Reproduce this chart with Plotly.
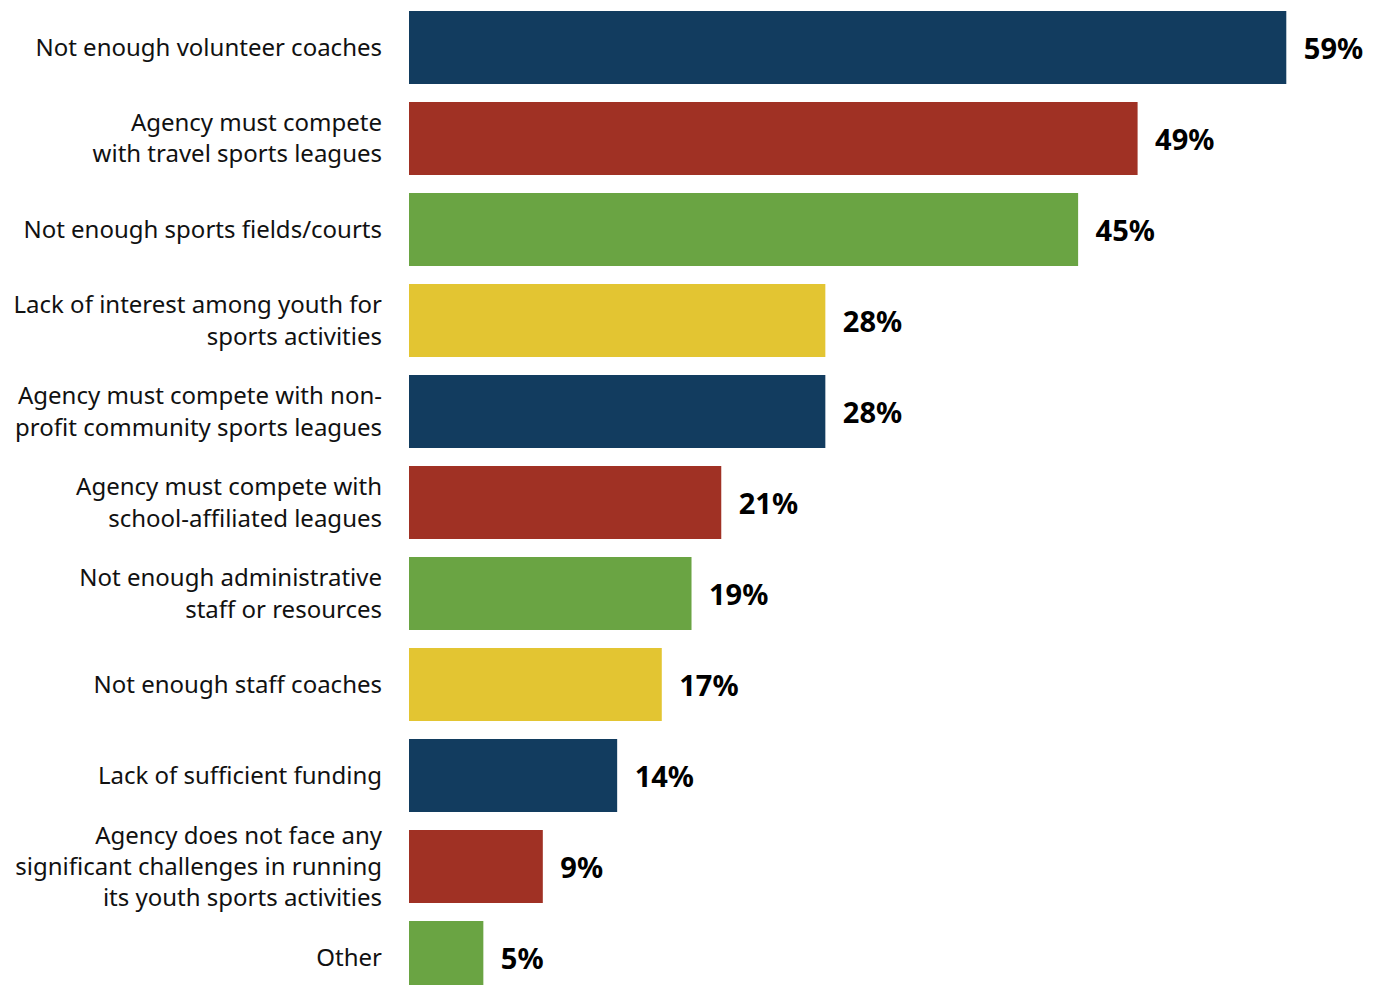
import plotly.graph_objects as go

categories = [
    "Not enough volunteer coaches",
    "Agency must compete<br>with travel sports leagues",
    "Not enough sports fields/courts",
    "Lack of interest among youth for<br>sports activities",
    "Agency must compete with non-<br>profit community sports leagues",
    "Agency must compete with<br>school-affiliated leagues",
    "Not enough administrative<br>staff or resources",
    "Not enough staff coaches",
    "Lack of sufficient funding",
    "Agency does not face any<br>significant challenges in running<br>its youth sports activities",
    "Other",
]
values = [59, 49, 45, 28, 28, 21, 19, 17, 14, 9, 5]

NAVY, RED, GREEN, GOLD = "#123C5F", "#A03124", "#6AA443", "#E3C532"
palette = [NAVY, RED, GREEN, GOLD]
colors = [palette[i % 4] for i in range(len(values))]

fig = go.Figure(
    go.Bar(
        x=values,
        y=categories,
        orientation="h",
        marker=dict(color=colors, line=dict(width=0)),
        # en space keeps the value label clear of the bar end
        text=[f"\u2002{v}%" for v in values],
        textposition="outside",
        textfont=dict(family="Noto Sans", size=29, color="#000000", weight="bold"),
        cliponaxis=False,
        hoverinfo="skip",
    )
)

fig.update_layout(
    width=1377,
    height=985,
    margin=dict(l=409, r=0, t=0, b=0),
    paper_bgcolor="white",
    plot_bgcolor="white",
    bargap=0.198,
    showlegend=False,
    font=dict(family="Noto Sans", size=24, color="#111111"),
)

fig.update_xaxes(
    range=[0, 65.1],
    visible=False,
    showgrid=False,
    zeroline=False,
)
fig.update_yaxes(
    type="category",
    range=[10.302, -0.522],
    showgrid=False,
    zeroline=False,
    showline=False,
    ticks="",
    ticklabelstandoff=26,
    tickfont=dict(family="Noto Sans", size=24, color="#111111"),
)

fig.write_html("out.html")
